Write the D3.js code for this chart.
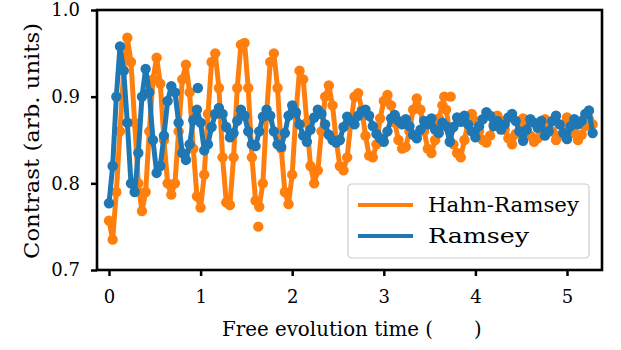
<!DOCTYPE html>
<html>
<head>
<meta charset="utf-8">
<script src="https://cdn.jsdelivr.net/npm/d3@7"></script>
<style>
  body { margin: 0; background: #fff; }
  svg text { font-family: "DejaVu Serif", "Liberation Serif", serif !important; fill: #000; }
</style>
</head>
<body>
<div id="chart"></div>
<script>
// sample times (us), shared by both scans
const timeUs = [0,0.04,0.08,0.12,0.16,0.2,0.24,0.28,0.32,0.36,0.4,0.44,0.48,0.52,0.56,0.6,0.64,0.68,0.72,0.76,
  0.8,0.84,0.88,0.92,0.96,1,1.04,1.08,1.12,1.16,1.2,1.24,1.28,1.32,1.36,1.4,1.44,1.48,1.52,1.56,
  1.6,1.64,1.68,1.72,1.76,1.8,1.84,1.88,1.92,1.96,2,2.04,2.08,2.12,2.16,2.2,2.24,2.28,2.32,2.36,
  2.4,2.44,2.48,2.52,2.56,2.6,2.64,2.68,2.72,2.76,2.8,2.84,2.88,2.92,2.96,3,3.04,3.08,3.12,3.16,
  3.2,3.24,3.28,3.32,3.36,3.4,3.44,3.48,3.52,3.56,3.6,3.64,3.68,3.72,3.76,3.8,3.84,3.88,3.92,3.96,
  4,4.04,4.08,4.12,4.16,4.2,4.24,4.28,4.32,4.36,4.4,4.44,4.48,4.52,4.56,4.6,4.64,4.68,4.72,4.76,
  4.8,4.84,4.88,4.92,4.96,5,5.04,5.08,5.12,5.16,5.2,5.24,5.28];

const hahnRamsey = [0.757,0.735,0.79,0.86,0.93,0.968,0.94,0.87,0.80,0.768,
  0.79,0.86,0.92,0.945,0.915,0.85,0.80,0.787,0.80,0.86,
  0.92,0.937,0.905,0.84,0.785,0.772,0.81,0.88,0.94,0.95,
  0.91,0.83,0.778,0.775,0.83,0.91,0.96,0.962,0.91,0.83,
  0.78,0.773,0.80,0.88,0.94,0.95,0.91,0.84,0.79,0.776,
  0.81,0.88,0.93,0.92,0.87,0.82,0.80,0.815,0.86,0.90,
  0.913,0.89,0.85,0.82,0.815,0.83,0.87,0.90,0.904,0.885,
  0.855,0.832,0.83,0.845,0.875,0.895,0.902,0.89,0.87,0.85,
  0.84,0.842,0.86,0.885,0.898,0.885,0.86,0.84,0.835,0.85,
  0.875,0.89,0.885,0.86,0.845,0.835,0.83,0.85,0.87,0.88,
  0.872,0.86,0.85,0.847,0.855,0.868,0.878,0.872,0.862,0.852,
  0.845,0.857,0.87,0.875,0.868,0.855,0.848,0.852,0.866,0.874,
  0.87,0.86,0.85,0.855,0.868,0.876,0.87,0.858,0.85,0.856,
  0.866,0.874,0.868];

const ramsey = [0.777,0.82,0.90,0.958,0.93,0.87,0.80,0.79,0.835,0.90,
  0.932,0.905,0.85,0.812,0.82,0.855,0.895,0.912,0.905,0.87,
  0.835,0.827,0.845,0.873,0.885,0.87,0.838,0.845,0.865,0.88,
  0.887,0.88,0.865,0.853,0.858,0.872,0.885,0.878,0.86,0.845,
  0.843,0.86,0.877,0.885,0.878,0.86,0.845,0.842,0.858,0.878,
  0.89,0.882,0.868,0.855,0.848,0.862,0.876,0.885,0.88,0.868,
  0.856,0.85,0.847,0.85,0.865,0.877,0.872,0.868,0.878,0.883,
  0.885,0.878,0.866,0.857,0.852,0.848,0.86,0.875,0.879,0.872,
  0.868,0.874,0.866,0.856,0.852,0.862,0.872,0.868,0.875,0.862,
  0.858,0.87,0.866,0.848,0.865,0.876,0.871,0.878,0.868,0.86,
  0.853,0.866,0.874,0.882,0.878,0.866,0.872,0.862,0.868,0.876,
  0.88,0.872,0.86,0.849,0.862,0.874,0.87,0.864,0.872,0.855,
  0.86,0.872,0.878,0.868,0.858,0.851,0.866,0.874,0.868,0.872,
  0.88,0.884,0.858];

// stray points that sit off the connected trace
const hahnStrayT = [1.63, 3.66, 3.73];
const hahnStrayV = [0.75, 0.90, 0.90];
const ramseyStrayT = [0.97];
const ramseyStrayV = [0.91];

const xTicks = [0, 1, 2, 3, 4, 5];
const yTicks = [0.7, 0.8, 0.9, 1.0];
const seriesNames = ["Hahn-Ramsey", "Ramsey"];
const colors = { "Hahn-Ramsey": "#ff7f0e", "Ramsey": "#1f77b4" };

const width = 621, height = 350;
const margin = { top: 10, right: 19, bottom: 80, left: 97 };
const tickFont = 18;
const labelFont = 19.5;

const svg = d3.select("#chart").append("svg")
  .attr("width", width).attr("height", height);

const x = d3.scaleLinear().domain([-0.131, 5.382])
  .range([margin.left, width - margin.right]);
const y = d3.scaleLinear().domain([0.7, 1.0])
  .range([height - margin.bottom, margin.top]);

const series = [
  { name: "Hahn-Ramsey", values: hahnRamsey, strayT: hahnStrayT, strayV: hahnStrayV },
  { name: "Ramsey", values: ramsey, strayT: ramseyStrayT, strayV: ramseyStrayV }
];

const line = d3.line()
  .x(d => x(d[0]))
  .y(d => y(d[1]));

svg.append("clipPath").attr("id", "clip")
  .append("rect")
  .attr("x", margin.left).attr("y", margin.top)
  .attr("width", width - margin.right - margin.left)
  .attr("height", height - margin.bottom - margin.top);

const marks = svg.append("g").attr("clip-path", "url(#clip)");

series.forEach(s => {
  const pts = timeUs.map((t, i) => [t, s.values[i]]);
  const g = marks.append("g");
  g.append("path")
    .datum(pts)
    .attr("d", line)
    .attr("fill", "none")
    .attr("stroke", colors[s.name])
    .attr("stroke-width", 5)
    .attr("stroke-linejoin", "round");
  g.selectAll("circle.pt")
    .data(pts.concat(s.strayT.map((t, i) => [t, s.strayV[i]])))
    .join("circle")
    .attr("class", "pt")
    .attr("cx", d => x(d[0]))
    .attr("cy", d => y(d[1]))
    .attr("r", 5.2)
    .attr("fill", colors[s.name]);
});

// axes
const xAxis = d3.axisBottom(x).tickValues(xTicks).tickFormat(d3.format("d"))
  .tickSize(6).tickPadding(14);
const yAxis = d3.axisLeft(y).tickValues(yTicks).tickFormat(d3.format(".1f"))
  .tickSize(6).tickPadding(11);

const gx = svg.append("g")
  .attr("transform", `translate(0,${height - margin.bottom})`)
  .call(xAxis);
const gy = svg.append("g")
  .attr("transform", `translate(${margin.left},0)`)
  .call(yAxis);

[gx, gy].forEach(g => {
  g.select(".domain").remove();
  g.selectAll(".tick line").attr("stroke", "#000").attr("stroke-width", 2.5);
  g.selectAll(".tick text").attr("font-size", tickFont);
});

// frame
svg.append("rect")
  .attr("x", margin.left).attr("y", margin.top)
  .attr("width", width - margin.right - margin.left)
  .attr("height", height - margin.bottom - margin.top)
  .attr("fill", "none")
  .attr("stroke", "#000")
  .attr("stroke-width", 2.6);

// axis labels (the unit symbol is blank in the original render)
svg.append("text")
  .attr("x", 222)
  .attr("y", 336)
  .attr("font-size", labelFont)
  .attr("textLength", 211)
  .attr("lengthAdjust", "spacingAndGlyphs")
  .text("Free evolution time (");
svg.append("text")
  .attr("x", 474)
  .attr("y", 336)
  .attr("font-size", labelFont)
  .text(")");

svg.append("text")
  .attr("transform", `translate(39,${(margin.top + height - margin.bottom) / 2 + 1}) rotate(-90)`)
  .attr("text-anchor", "middle")
  .attr("font-size", labelFont)
  .attr("textLength", 236)
  .attr("lengthAdjust", "spacingAndGlyphs")
  .text("Contrast (arb. units)");

// legend
const leg = svg.append("g").attr("transform", "translate(348,184)");
leg.append("rect")
  .attr("width", 241).attr("height", 74)
  .attr("rx", 4)
  .attr("fill", "#fff").attr("fill-opacity", 0.85)
  .attr("stroke", "#cccccc").attr("stroke-width", 1.2);

const legendWidths = { "Hahn-Ramsey": 151, "Ramsey": 101 };
seriesNames.forEach((name, i) => {
  const row = leg.append("g").attr("transform", `translate(0,${21 + i * 31})`);
  row.append("line")
    .attr("x1", 10).attr("x2", 65)
    .attr("stroke", colors[name]).attr("stroke-width", 4);
  row.append("text")
    .attr("x", 80).attr("y", 7)
    .attr("font-size", labelFont)
    .attr("textLength", legendWidths[name])
    .attr("lengthAdjust", "spacingAndGlyphs")
    .text(name);
});
</script>
</body>
</html>
